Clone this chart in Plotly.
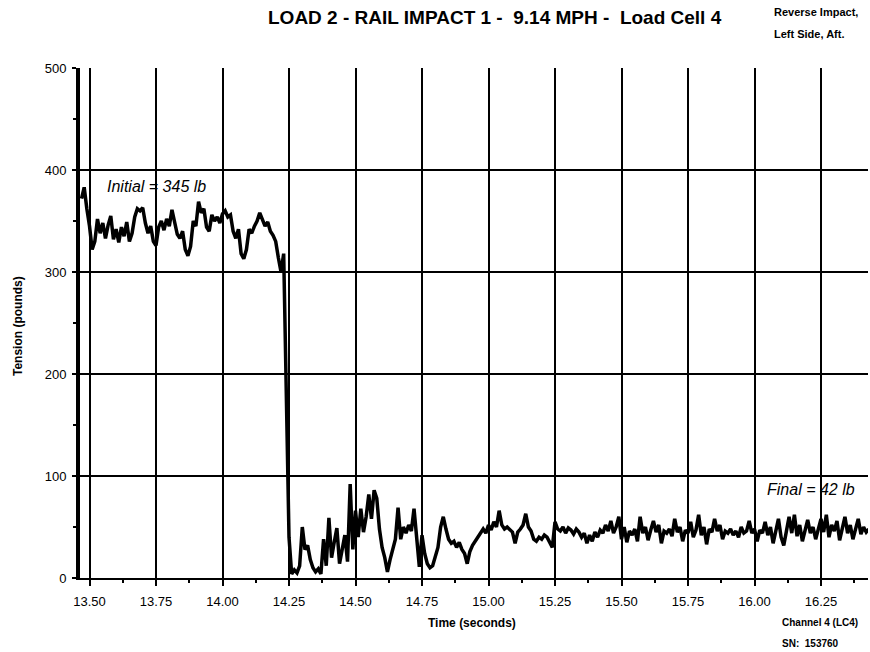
import numpy as np
import plotly.graph_objects as go

seg1_start = 13.47  # pre-impact tension, through the drop
seg1_vals = [372, 383, 362, 345, 322, 330, 352, 338, 348, 333,
             346, 355, 332, 342, 329, 344, 335, 349, 330, 338,
             354, 362, 360, 363, 348, 338, 345, 330, 326, 344,
             350, 341, 352, 345, 361, 348, 337, 333, 340, 322,
             316, 325, 350, 345, 369, 358, 362, 344, 340, 356,
             350, 354, 348, 357, 360, 354, 356, 340, 333, 342,
             318, 313, 322, 342, 338, 345, 350, 358, 352, 345,
             349, 340, 336, 330, 314, 300, 318, 180, 40]

seg2_start = 14.26  # post-impact slack and rebound
seg2_vals = [4, 8, 5, 12, 50, 28, 32, 18, 10, 6,
             9, 4, 38, 12, 59, 20, 35, 49, 14, 30,
             42, 16, 92, 28, 66, 40, 68, 45, 60, 82,
             58, 86, 78, 48, 30, 20, 6, 18, 28, 38,
             69, 38, 50, 44, 52, 46, 68, 40, 11, 42,
             24, 14, 10, 12, 22, 30, 50, 60, 48, 38,
             34, 36, 30, 35, 28, 24, 14, 26, 32, 36,
             40, 44, 48, 44, 52, 47, 55, 50, 66, 52,
             48, 50, 47, 45, 34, 45, 48, 52, 63, 50,
             46, 38, 36, 40, 38, 42, 40, 34, 30, 55]

seg3_start = 15.26  # settled final tension
seg3_vals = [48, 46, 50, 44, 49, 47, 43, 48, 45, 40,
             44, 34, 42, 36, 45, 40, 47, 44, 52, 46,
             56, 44, 50, 60, 38, 50, 35, 46, 42, 48,
             36, 60, 44, 50, 37, 47, 56, 45, 52, 34,
             46, 44, 48, 41, 58, 45, 50, 36, 47, 44,
             55, 40, 47, 62, 42, 50, 33, 48, 45, 58,
             46, 52, 38, 46, 44, 48, 42, 46, 40, 50,
             44, 46, 56, 44, 48, 36, 47, 44, 55, 42,
             50, 34, 47, 58, 40, 32, 46, 60, 44, 62,
             41, 52, 36, 48, 57, 44, 50, 38, 47, 58,
             45, 62, 40, 52, 46, 56, 37, 48, 60, 44,
             52, 38, 49, 58, 43, 50, 45, 48]

x_tick_vals = [13.50, 13.75, 14.00, 14.25, 14.50, 14.75, 15.00, 15.25, 15.50, 15.75, 16.00, 16.25]
y_tick_vals = [0, 100, 200, 300, 400, 500]

title_text = "LOAD 2 - RAIL IMPACT 1 -  9.14 MPH -  Load Cell 4"
note_top = ["Reverse Impact,", "Left Side, Aft."]
note_bottom = ["Channel 4 (LC4)", "SN:  153760"]
initial_label = "Initial = 345 lb"
final_label = "Final = 42 lb"


def seg_times(start, vals):
    return [round(start + 0.01 * i, 2) for i in range(len(vals))]


t = seg_times(seg1_start, seg1_vals) + seg_times(seg2_start, seg2_vals) + seg_times(seg3_start, seg3_vals)
v = seg1_vals + seg2_vals + seg3_vals

W, H = 870, 652
L, R, T, B = 80, 2, 68, 74
PW, PH = W - L - R, H - T - B


def px(xp):
    return (xp - L) / PW


def py(yp):
    return (H - B - yp) / PH


FONT = "Liberation Sans, Arial, sans-serif"

fig = go.Figure()
fig.add_trace(go.Scatter(x=t, y=v, mode="lines",
                         line=dict(color="black", width=3.5),
                         hoverinfo="skip", showlegend=False))

fig.update_layout(
    width=W, height=H,
    margin=dict(l=L, r=R, t=T, b=B),
    paper_bgcolor="white", plot_bgcolor="white",
    font=dict(family=FONT, color="black", size=13),
    showlegend=False,
)

fig.update_xaxes(
    range=[13.4643, 16.4267],
    tickvals=x_tick_vals,
    ticktext=[f"{x:.2f}" for x in x_tick_vals],
    ticks="outside", ticklen=6, tickwidth=1.5, tickcolor="black",
    showgrid=True, gridcolor="black", gridwidth=1.6,
    showline=True, linecolor="black", linewidth=1.6,
    zeroline=False,
    tickfont=dict(size=13, family=FONT),
    ticklabelstandoff=5,
    minor=dict(dtick=0.125, tick0=13.5, ticks="outside", ticklen=3, tickcolor="black", showgrid=False),
)
fig.update_yaxes(
    range=[0, 500],
    tickvals=y_tick_vals,
    ticks="outside", ticklen=4, tickwidth=1.5, tickcolor="black",
    showgrid=True, gridcolor="black", gridwidth=1.6,
    showline=True, linecolor="black", linewidth=4,
    zeroline=False,
    tickfont=dict(size=13, family=FONT),
    ticklabelstandoff=3,
    minor=dict(dtick=50, tick0=0, ticks="outside", ticklen=3, tickcolor="black", showgrid=False),
)

ann = []
ann.append(dict(text=f"<b>{title_text}</b>", x=px(495), y=py(18), xref="paper", yref="paper",
                xanchor="center", yanchor="middle", showarrow=False,
                font=dict(size=19, family=FONT)))
ann.append(dict(text=f"<b>{note_top[0]}</b>", x=px(772), y=py(12), xref="paper", yref="paper",
                xanchor="left", yanchor="middle", showarrow=False, font=dict(size=11, family=FONT)))
ann.append(dict(text=f"<b>{note_top[1]}</b>", x=px(772), y=py(34), xref="paper", yref="paper",
                xanchor="left", yanchor="middle", showarrow=False, font=dict(size=11, family=FONT)))
ann.append(dict(text=f"<b>{note_bottom[0]}</b>", x=px(780), y=py(622), xref="paper", yref="paper",
                xanchor="left", yanchor="middle", showarrow=False, font=dict(size=10, family=FONT)))
ann.append(dict(text=f"<b>{note_bottom[1]}</b>", x=px(780), y=py(643), xref="paper", yref="paper",
                xanchor="left", yanchor="middle", showarrow=False, font=dict(size=10, family=FONT)))
ann.append(dict(text="<b>Time (seconds)</b>", x=px(472), y=py(623), xref="paper", yref="paper",
                xanchor="center", yanchor="middle", showarrow=False, font=dict(size=12, family=FONT)))
ann.append(dict(text="<b>Tension (pounds)</b>", x=px(18), y=py(326), xref="paper", yref="paper",
                xanchor="center", yanchor="middle", textangle=-90, showarrow=False,
                font=dict(size=12, family=FONT)))
ann.append(dict(text=f"<i>{initial_label}</i>", x=px(105), y=py(187), xref="paper", yref="paper",
                xanchor="left", yanchor="middle", showarrow=False, font=dict(size=16, family=FONT)))
ann.append(dict(text=f"<i>{final_label}</i>", x=px(765), y=py(489), xref="paper", yref="paper",
                xanchor="left", yanchor="middle", showarrow=False, font=dict(size=16, family=FONT)))
fig.update_layout(annotations=ann)

fig.write_html("out.html", config={"displayModeBar": False},
               post_script="document.body.style.margin='0';document.body.style.padding='0';")
